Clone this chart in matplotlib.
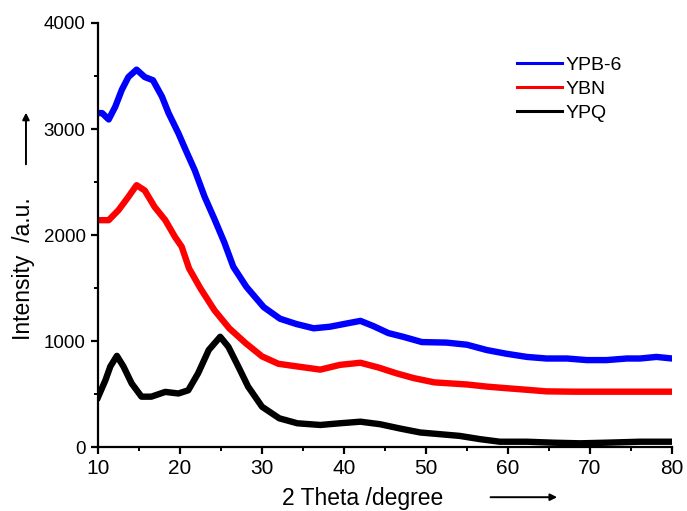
import matplotlib
matplotlib.use("Agg")
import matplotlib.pyplot as plt
from matplotlib.patches import FancyArrowPatch
from matplotlib.ticker import MultipleLocator

plt.rcParams['font.family'] = ['Liberation Sans', 'DejaVu Sans']

# 2 Theta positions (degree) and intensities
ypb6_x = [10.0, 10.5, 11.3, 12.1, 12.9, 13.7, 14.7, 15.7, 16.7, 17.8, 18.6, 19.8,
          20.7, 21.8, 23.0, 24.2, 25.4, 26.5, 28.1, 30.2, 32.2, 34.2, 36.3, 38.3,
          40.3, 42.0, 43.6, 45.4, 47.2, 49.5, 52.5, 55.0, 57.4, 59.8, 62.3, 64.7,
          67.2, 69.6, 72.0, 74.5, 76.1, 78.1, 80.0]
ypb6_y = [3150, 3150, 3090, 3210, 3370, 3490, 3560, 3490, 3460, 3305, 3150, 2960,
          2800, 2610, 2360, 2150, 1930, 1700, 1510, 1320, 1210, 1160, 1120, 1135,
          1165, 1190, 1140, 1075, 1040, 990, 985, 965, 915, 880, 850, 835,
          835, 820, 820, 835, 835, 850, 835]

ybn_x = [10.0, 11.3, 12.5, 13.7, 14.7, 15.7, 16.9, 18.2, 19.4, 20.2, 21.1, 22.5,
         24.2, 26.0, 28.0, 30.0, 32.0, 34.3, 37.1, 39.5, 42.0, 44.2, 46.4, 48.5,
         51.0, 55.0, 57.4, 59.8, 62.3, 64.7, 68.0, 72.0, 76.0, 80.0]
ybn_y = [2140, 2140, 2235, 2360, 2470, 2420, 2265, 2140, 1980, 1890, 1685, 1495,
         1290, 1120, 980, 855, 785, 760, 730, 775, 795, 750, 695, 650,
         610, 590, 570, 555, 540, 525, 522, 522, 522, 522]

ypq_x = [10.0, 10.9, 11.5, 12.3, 13.1, 14.1, 15.3, 16.5, 18.2, 19.8, 21.0, 22.2,
         23.5, 24.9, 25.9, 27.1, 28.3, 30.0, 32.1, 34.3, 37.1, 39.5, 42.0, 44.4,
         46.8, 49.3, 51.7, 54.1, 56.6, 59.0, 62.3, 65.5, 68.8, 72.0, 76.1, 80.0]
ypq_y = [470, 630, 760, 860, 760, 600, 475, 475, 520, 505, 535, 695,
         915, 1040, 945, 760, 570, 380, 271, 224, 208, 224, 239, 215,
         175, 137, 121, 105, 74, 50, 50, 41, 35, 41, 50, 50]

series = [("YPB-6", ypb6_x, ypb6_y, "#0000ff"),
          ("YBN", ybn_x, ybn_y, "#ff0000"),
          ("YPQ", ypq_x, ypq_y, "#000000")]

fig = plt.figure(figsize=(6.87, 5.11), dpi=100)
ax = fig.add_axes([0.1427, 0.1252, 0.8355, 0.8298])

for name, xs, ys, color in series:
    ax.plot(xs, ys, color=color, lw=4.6, label=name, solid_joinstyle='round')

ax.set_xlim(10, 80)
ax.set_ylim(0, 4000)
ax.xaxis.set_major_locator(MultipleLocator(10))
ax.xaxis.set_minor_locator(MultipleLocator(5))
ax.yaxis.set_major_locator(MultipleLocator(1000))
ax.yaxis.set_minor_locator(MultipleLocator(500))

ax.spines['top'].set_visible(False)
ax.spines['right'].set_visible(False)
for side in ['left', 'bottom']:
    ax.spines[side].set_linewidth(1.6)
ax.tick_params(which='major', direction='out', length=5, width=1.6)
ax.tick_params(which='minor', direction='out', length=3, width=1.4)
ax.tick_params(axis='x', labelsize=15, pad=3.5)
ax.tick_params(axis='y', labelsize=13.5, pad=4)

leg = ax.legend(loc='upper left', bbox_to_anchor=(0.730, 0.922), frameon=False,
                fontsize=14, handlelength=2.3, handletextpad=0.2, labelspacing=0.33,
                borderpad=0, borderaxespad=0)
for line in leg.get_lines():
    line.set_linewidth(2.2)

# axis titles with the arrows
fig.text(0.0437, 0.3346, "Intensity  /a.u.", rotation=90, rotation_mode='anchor',
         ha='left', va='baseline', fontsize=16.5)
fig.text(0.4105, 0.0117, "2 Theta /degree", ha='left', va='baseline', fontsize=16.5)
fig.add_artist(FancyArrowPatch((0.0378, 0.673), (0.0378, 0.785), transform=fig.transFigure,
                               arrowstyle='-|>', mutation_scale=10, lw=1.4, color='black'))
fig.add_artist(FancyArrowPatch((0.710, 0.027), (0.815, 0.027), transform=fig.transFigure,
                               arrowstyle='-|>', mutation_scale=10, lw=1.4, color='black'))

fig.savefig("out.png", dpi=100)
